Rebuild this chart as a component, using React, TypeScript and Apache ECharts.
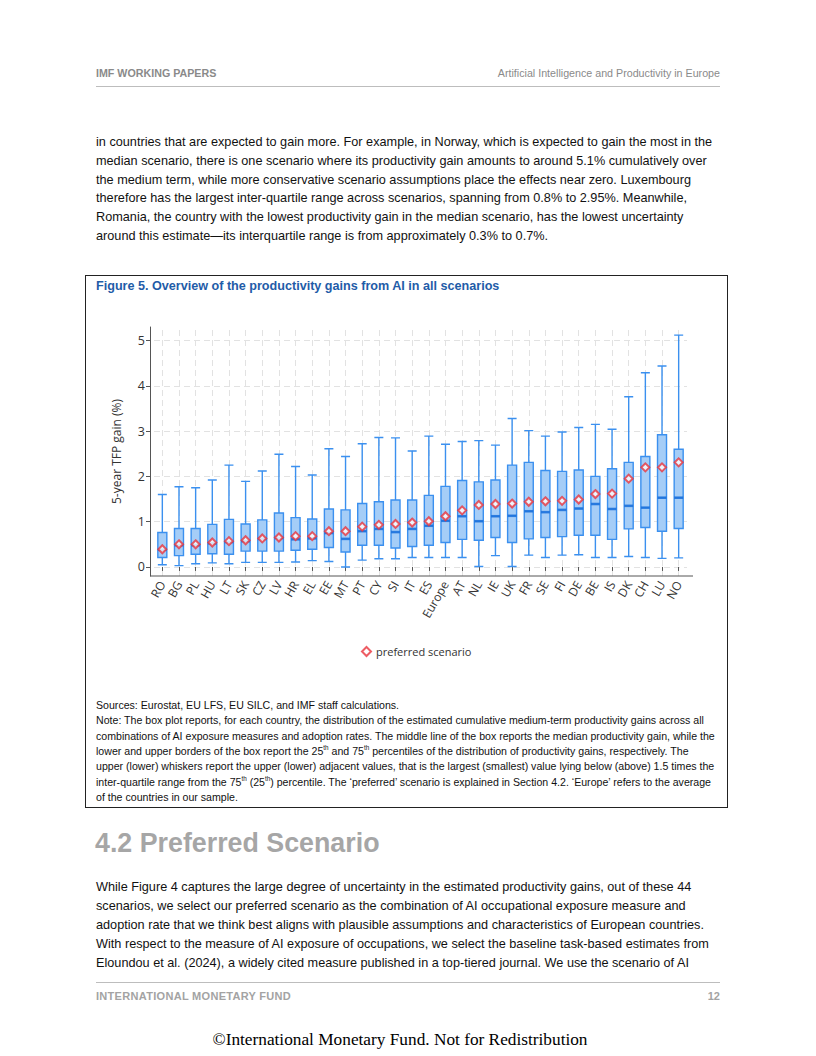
import React, { useEffect, useRef } from "react";
import * as echarts from "echarts";

const countries = ["RO","BG","PL","HU","LT","SK","CZ","LV","HR","EL","EE","MT","PT","CY","SI","IT","ES","Europe","AT","NL","IE","UK","FR","SE","FI","DE","BE","IS","DK","CH","LU","NO"];
const lowerWhisker = [0.05,0.03,0.07,0.09,0.07,0.10,0.10,0.10,0.11,0.14,0.12,0.00,0.15,0.18,0.18,0.21,0.21,0.21,0.21,0.01,0.25,0.01,0.26,0.21,0.26,0.27,0.21,0.21,0.23,0.21,0.19,0.20];
const q1 = [0.21,0.25,0.28,0.29,0.28,0.35,0.35,0.35,0.37,0.39,0.43,0.33,0.48,0.48,0.42,0.45,0.48,0.54,0.61,0.59,0.65,0.54,0.62,0.65,0.67,0.70,0.70,0.61,0.84,0.87,0.79,0.85];
const median = [0.38,0.48,0.48,0.52,0.55,0.57,0.62,0.64,0.61,0.63,0.75,0.62,0.79,0.84,0.77,0.84,0.91,1.02,1.12,1.01,1.12,1.13,1.23,1.21,1.26,1.29,1.39,1.28,1.35,1.31,1.53,1.53];
const q3 = [0.76,0.85,0.85,0.94,1.05,0.95,1.04,1.19,1.09,1.06,1.28,1.26,1.40,1.44,1.48,1.48,1.58,1.78,1.91,1.88,1.92,2.25,2.31,2.13,2.11,2.14,2.00,2.17,2.31,2.44,2.92,2.60];
const upperWhisker = [1.60,1.77,1.75,1.92,2.25,1.89,2.12,2.49,2.22,2.03,2.61,2.44,2.72,2.86,2.85,2.56,2.89,2.71,2.77,2.79,2.69,3.28,3.01,2.89,2.98,3.08,3.15,3.04,3.76,4.29,4.44,5.12];
const preferred = [0.39,0.50,0.50,0.54,0.57,0.59,0.63,0.65,0.68,0.68,0.79,0.79,0.89,0.93,0.95,0.98,1.01,1.12,1.25,1.37,1.39,1.40,1.44,1.45,1.46,1.49,1.61,1.62,1.95,2.20,2.20,2.31];
const yTicks = [0, 1, 2, 3, 4, 5];

const para1 = [
  "in countries that are expected to gain more. For example, in Norway, which is expected to gain the most in the",
  "median scenario, there is one scenario where its productivity gain amounts to around 5.1% cumulatively over",
  "the medium term, while more conservative scenario assumptions place the effects near zero. Luxembourg",
  "therefore has the largest inter-quartile range across scenarios, spanning from 0.8% to 2.95%. Meanwhile,",
  "Romania, the country with the lowest productivity gain in the median scenario, has the lowest uncertainty",
  "around this estimate\u2014its interquartile range is from approximately 0.3% to 0.7%.",
];
const para2 = [
  "While Figure 4 captures the large degree of uncertainty in the estimated productivity gains, out of these 44",
  "scenarios, we select our preferred scenario as the combination of AI occupational exposure measure and",
  "adoption rate that we think best aligns with plausible assumptions and characteristics of European countries.",
  "With respect to the measure of AI exposure of occupations, we select the baseline task-based estimates from",
  "Eloundou et al. (2024), a widely cited measure published in a top-tiered journal. We use the scenario of AI",
];

const SANS = '"Liberation Sans", Arial, Helvetica, sans-serif';
const CHARTFONT = '"Open Sans", "Noto Sans", sans-serif';

function Sup({ t }: { t: string }) {
  return <span style={{ fontSize: 6.3, verticalAlign: "super", lineHeight: 0 }}>{t}</span>;
}

function Chart() {
  const ref = useRef<HTMLDivElement>(null);
  useEffect(() => {
    if (!ref.current) return;
    const chart = echarts.init(ref.current, null, { renderer: "svg" });
    const boxData = countries.map((_, i) => [lowerWhisker[i], q1[i], median[i], q3[i], upperWhisker[i]]);
    const gridLine = { color: "#e2e2e2", width: 1, type: [6, 4] as any };
    chart.setOption({
      animation: false,
      textStyle: { fontFamily: CHARTFONT },
      grid: { left: 68, right: 39, top: 31, bottom: 110, containLabel: false },
      legend: {
        data: [{ name: "preferred scenario", icon: "emptyDiamond" }],
        left: 270,
        top: 345,
        itemWidth: 9,
        itemHeight: 9,
        itemGap: 6,
        textStyle: { fontSize: 11, color: "#333", fontFamily: CHARTFONT },
      },
      xAxis: {
        type: "category",
        data: countries,
        boundaryGap: true,
        axisLine: { show: false },
        axisTick: { show: true, alignWithLabel: true, length: 4, lineStyle: { color: "#555" } },
        axisLabel: { rotate: 60, fontSize: 12, color: "#333", margin: 6, interval: 0, fontFamily: CHARTFONT },
        splitLine: { show: false },
      },
      yAxis: {
        type: "value",
        min: -0.2,
        max: 5.3,
        offset: 4,
        name: "5-year TFP gain (%)",
        nameLocation: "middle",
        nameGap: 28,
        nameTextStyle: { fontSize: 12, color: "#333", fontFamily: CHARTFONT },
        axisLine: { show: true, lineStyle: { color: "#555", width: 1 } },
        axisTick: { show: true, length: 4, customValues: yTicks, lineStyle: { color: "#555" } },
        axisLabel: { show: true, fontSize: 12.5, color: "#333", margin: 5, customValues: yTicks, fontFamily: CHARTFONT },
        splitLine: { show: false },
      },
      graphic: [
        { type: "line", shape: { x1: 64, y1: 280, x2: 607, y2: 280 }, style: { stroke: "#555", lineWidth: 1 }, z: 10 },
      ],
      series: [
        {
          name: "grid",
          type: "line",
          data: [],
          silent: true,
          markLine: {
            silent: true,
            z: 0,
            symbol: ["none", "none"],
            label: { show: false },
            lineStyle: gridLine,
            emphasis: { disabled: true },
            data: [
              ...yTicks.map((v) => ({ yAxis: v })),
              ...countries.map((c) => ({ xAxis: c })),
            ],
          },
        },
        {
          name: "box",
          type: "boxplot",
          z: 3,
          data: boxData,
          boxWidth: [9, 9],
          itemStyle: { color: "#a5cdf7", borderColor: "#3b90ef", borderWidth: 1.4 },
          emphasis: { disabled: true },
          silent: true,
        },
        {
          name: "median",
          type: "scatter",
          z: 4,
          data: median,
          symbol: "rect",
          symbolSize: [9, 2.6],
          itemStyle: { color: "#1b6fd9" },
          silent: true,
        },
        {
          name: "preferred scenario",
          type: "scatter",
          z: 5,
          data: preferred,
          symbol: "emptyDiamond",
          symbolSize: 8,
          itemStyle: { color: "#e8343d", borderColor: "#e8343d", borderWidth: 2 },
          silent: true,
        },
      ],
    });
    return () => chart.dispose();
  }, []);
  return <div ref={ref} style={{ position: "absolute", left: 86, top: 296, width: 640, height: 390 }} />;
}

function Line({ top, left, text, style }: { top: number; left: number; text: any; style?: any }) {
  return (
    <div style={{ position: "absolute", top, left, whiteSpace: "nowrap", ...style }}>{text}</div>
  );
}

export default function App() {
  const bodyStyle = { fontSize: 12.7, lineHeight: "16px", color: "#111", fontFamily: SANS };
  const noteStyle = { fontSize: 10.6, lineHeight: "14px", color: "#111", fontFamily: SANS };
  const notes: any[] = [
    "Sources: Eurostat, EU LFS, EU SILC, and IMF staff calculations.",
    "Note: The box plot reports, for each country, the distribution of the estimated cumulative medium-term productivity gains across all",
    "combinations of AI exposure measures and adoption rates. The middle line of the box reports the median productivity gain, while the",
    <>lower and upper borders of the box report the 25<Sup t="th" /> and 75<Sup t="th" /> percentiles of the distribution of productivity gains, respectively. The</>,
    "upper (lower) whiskers report the upper (lower) adjacent values, that is the largest (smallest) value lying below (above) 1.5 times the",
    <>inter-quartile range from the 75<Sup t="th" /> (25<Sup t="th" />) percentile. The {"\u2018"}preferred{"\u2019"} scenario is explained in Section 4.2. {"\u2018"}Europe{"\u2019"} refers to the average</>,
    "of the countries in our sample.",
  ];
  return (
    <div style={{ position: "absolute", left: 0, top: 0, width: 816, height: 1056, background: "#fff", fontFamily: SANS, overflow: "hidden" }}>
      <Line top={67} left={96} text="IMF WORKING PAPERS" style={{ fontSize: 10.7, fontWeight: "bold", color: "#8a8a8a", lineHeight: "12px" }} />
      <div style={{ position: "absolute", top: 67, right: 816 - 720, fontSize: 10.7, color: "#8a8a8a", lineHeight: "12px", whiteSpace: "nowrap" }}>
        Artificial Intelligence and Productivity in Europe
      </div>
      <div style={{ position: "absolute", top: 86, left: 96, width: 624, height: 1, background: "#bdbdbd" }} />

      {para1.map((t, i) => (
        <Line key={i} top={134 + i * 18.8} left={96} text={t} style={bodyStyle} />
      ))}

      <div style={{ position: "absolute", left: 85, top: 275, width: 641, height: 531, border: "1px solid #222" }} />
      <Line top={278} left={96} text="Figure 5. Overview of the productivity gains from AI in all scenarios" style={{ fontSize: 12.6, fontWeight: "bold", color: "#1f5ca8", lineHeight: "16px" }} />
      <Chart />
      {notes.map((t, i) => (
        <Line key={i} top={698 + i * 15.3} left={96} text={t} style={noteStyle} />
      ))}

      <Line top={827} left={95} text="4.2 Preferred Scenario" style={{ fontSize: 26.8, fontWeight: "bold", color: "#a6a6a6", lineHeight: "32px" }} />
      {para2.map((t, i) => (
        <Line key={i} top={879 + i * 19} left={96} text={t} style={bodyStyle} />
      ))}

      <div style={{ position: "absolute", top: 982, left: 96, width: 624, height: 1, background: "#bdbdbd" }} />
      <Line top={990} left={96} text="INTERNATIONAL MONETARY FUND" style={{ fontSize: 11, fontWeight: "bold", color: "#a3a3a3", lineHeight: "12px", letterSpacing: 0.3 }} />
      <div style={{ position: "absolute", top: 990, right: 96, fontSize: 11, fontWeight: "bold", color: "#a3a3a3", lineHeight: "12px" }}>12</div>

      <div style={{ position: "absolute", top: 1029, left: 0, width: 800, textAlign: "center", fontFamily: '"Liberation Serif", "Times New Roman", serif', fontSize: 17.3, color: "#000", lineHeight: "22px" }}>
        {"\u00A9"}International Monetary Fund. Not for Redistribution
      </div>
    </div>
  );
}
